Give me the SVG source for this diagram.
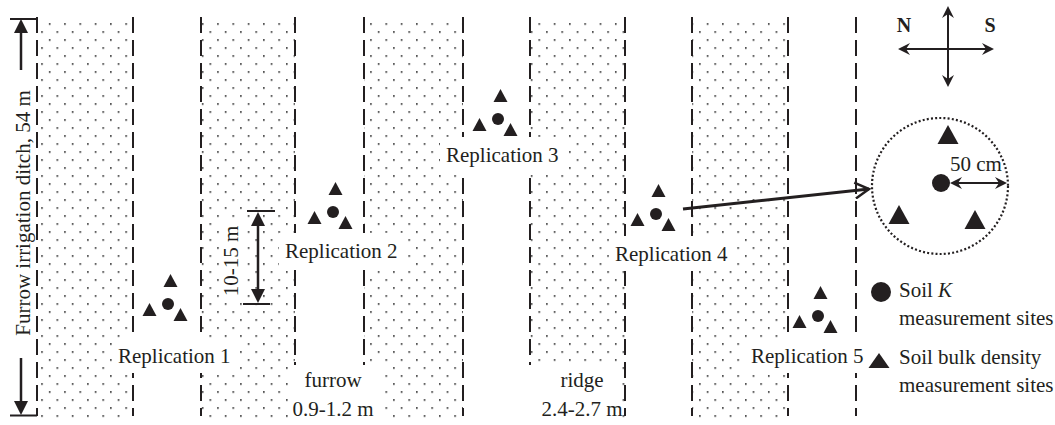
<svg xmlns="http://www.w3.org/2000/svg" width="1055" height="425" viewBox="0 0 1055 425">
  <style>
    .t { font-family: "Liberation Serif", "Times New Roman", serif; font-size: 21px; fill: #231f20; }
    .b { font-weight: bold; font-size: 20px; }
    .dash { stroke: #231f20; stroke-width: 2; stroke-dasharray: 16 7; fill: none; }
    .ln { stroke: #231f20; fill: none; }
    .ink { fill: #231f20; }
    .bg { fill: #ffffff; }
  </style>
  <defs>
    <!-- stipple used on the ridges -->
    <pattern id="stipple" patternUnits="userSpaceOnUse" x="41.2" y="31.2" width="15.3" height="16">
      <rect x="0" y="0" width="1.6" height="1.6" fill="#222"/>
      <rect x="7.65" y="8" width="1.6" height="1.6" fill="#222"/>
    </pattern>
    <!-- arrowheads -->
    <marker id="tri" viewBox="0 0 14 14" refX="7" refY="7" markerWidth="14" markerHeight="14" markerUnits="userSpaceOnUse" orient="auto-start-reverse">
      <path d="M0,0 L14,7 L0,14 Z" fill="#231f20"/>
    </marker>
    <marker id="barb" viewBox="0 0 12 12" refX="6" refY="6" markerWidth="12" markerHeight="12" markerUnits="userSpaceOnUse" orient="auto-start-reverse">
      <path d="M0,0 L12,6 L0,12 L4,6 Z" fill="#231f20"/>
    </marker>
    <marker id="open" viewBox="-1 -1 17 18" refX="14" refY="8" markerWidth="17" markerHeight="18" markerUnits="userSpaceOnUse" orient="auto">
      <path d="M0,0 L14,8 L0,16" fill="none" stroke="#231f20" stroke-width="2.5"/>
    </marker>
    <!-- measurement site symbols -->
    <path id="tri-s" d="M0,0 L7,13 L-7,13 Z"/>
    <path id="tri-l" d="M0,0 L10.5,19 L-10.5,19 Z"/>
    <g id="sites" class="ink">
      <circle r="6"/>
      <use href="#tri-s" x="2.5" y="-30"/>
      <use href="#tri-s" x="-18.5" y="-1"/>
      <use href="#tri-s" x="12.5" y="4"/>
    </g>
  </defs>

  <rect width="1055" height="425" fill="#ffffff"/>

  <!-- ridges (stippled) -->
  <g id="ridges" fill="url(#stipple)">
    <rect x="37" y="18" width="96" height="402"/>
    <rect x="201" y="18" width="94" height="402"/>
    <rect x="364" y="18" width="99" height="402"/>
    <rect x="530" y="18" width="95" height="402"/>
    <rect x="692" y="18" width="96" height="402"/>
  </g>

  <!-- furrow / ridge boundaries -->
  <g id="boundaries" class="dash">
    <line x1="37" y1="17" x2="37" y2="416"/>
    <line x1="133" y1="17" x2="133" y2="416"/>
    <line x1="201" y1="17" x2="201" y2="416"/>
    <line x1="295" y1="17" x2="295" y2="416"/>
    <line x1="364" y1="17" x2="364" y2="416"/>
    <line x1="463" y1="17" x2="463" y2="416"/>
    <line x1="530" y1="17" x2="530" y2="416"/>
    <line x1="625" y1="17" x2="625" y2="416"/>
    <line x1="692" y1="17" x2="692" y2="416"/>
    <line x1="788" y1="17" x2="788" y2="416"/>
    <line x1="856" y1="17" x2="856" y2="416"/>
  </g>

  <!-- label backgrounds -->
  <g id="label-backgrounds" class="bg">
    <rect x="112" y="338" width="123" height="35"/>
    <rect x="279" y="233" width="124" height="35"/>
    <rect x="440" y="137" width="125" height="35"/>
    <rect x="609" y="236" width="124" height="35"/>
    <rect x="745" y="338" width="123" height="35"/>
    <rect x="221" y="222" width="22" height="78"/>
    <rect x="288" y="365" width="97" height="60"/>
    <rect x="528" y="365" width="94" height="60"/>
  </g>

  <!-- connectors -->
  <g id="connectors">
    <!-- ditch length -->
    <line class="ln" x1="10" y1="19" x2="37" y2="19" stroke-width="2"/>
    <line class="ln" x1="21" y1="70" x2="21" y2="26" stroke-width="2.5" marker-end="url(#tri)"/>
    <line class="ln" x1="21" y1="358" x2="21" y2="408" stroke-width="2.5" marker-end="url(#tri)"/>
    <line class="ln" x1="10" y1="415.5" x2="37" y2="415.5" stroke-width="2"/>
    <!-- spacing between replications -->
    <line class="ln" x1="247" y1="211" x2="275" y2="211" stroke-width="2"/>
    <line class="ln" x1="258" y1="219" x2="258" y2="296" stroke-width="2.5" marker-start="url(#tri)" marker-end="url(#tri)"/>
    <line class="ln" x1="243" y1="304" x2="270" y2="304" stroke-width="2"/>
    <!-- detail call-out -->
    <line class="ln" x1="683" y1="209" x2="869" y2="189" stroke-width="3" marker-end="url(#open)"/>
    <!-- 50 cm radius -->
    <line class="ln" x1="956" y1="183" x2="1001" y2="183" stroke-width="2" marker-start="url(#barb)" marker-end="url(#barb)"/>
    <!-- compass -->
    <line class="ln" x1="948" y1="12" x2="948" y2="81" stroke-width="2" marker-start="url(#barb)" marker-end="url(#barb)"/>
    <line class="ln" x1="904" y1="49" x2="988" y2="49" stroke-width="2" marker-start="url(#barb)" marker-end="url(#barb)"/>
  </g>

  <!-- dimension labels -->
  <g id="ditch-label">
    <text class="t" font-size="20.5" text-anchor="middle" transform="translate(30,213) rotate(-90)">Furrow irrigation ditch, 54 m</text>
  </g>
  <g id="spacing-label">
    <text class="t" text-anchor="middle" transform="translate(238,261) rotate(-90)">10-15 m</text>
  </g>
  <g id="furrow-label">
    <text class="t" x="333" y="387" text-anchor="middle">furrow</text>
    <text class="t" x="333" y="416" text-anchor="middle">0.9-1.2 m</text>
  </g>
  <g id="ridge-label">
    <text class="t" x="582" y="387" text-anchor="middle">ridge</text>
    <text class="t" x="582" y="416" text-anchor="middle">2.4-2.7 m</text>
  </g>

  <!-- replications -->
  <g id="replication-1">
    <use href="#sites" x="168" y="304"/>
    <text class="t" x="118" y="363">Replication 1</text>
  </g>
  <g id="replication-2">
    <use href="#sites" x="333" y="212"/>
    <text class="t" x="285" y="258">Replication 2</text>
  </g>
  <g id="replication-3">
    <use href="#sites" x="498" y="119"/>
    <text class="t" x="446" y="162">Replication 3</text>
  </g>
  <g id="replication-4">
    <use href="#sites" x="656" y="214"/>
    <text class="t" x="615" y="261">Replication 4</text>
  </g>
  <g id="replication-5">
    <use href="#sites" x="818" y="316"/>
    <text class="t" x="751" y="363">Replication 5</text>
  </g>

  <!-- enlarged site layout -->
  <g id="site-detail">
    <circle cx="940" cy="186" r="68" fill="none" stroke="#231f20" stroke-width="2.2" stroke-dasharray="2 2.2"/>
    <circle class="ink" cx="941" cy="183" r="9"/>
    <use class="ink" href="#tri-l" x="948" y="125"/>
    <use class="ink" href="#tri-l" x="899" y="205"/>
    <use class="ink" href="#tri-l" x="975" y="210"/>
    <text class="t" x="950" y="171">50 cm</text>
  </g>

  <!-- compass -->
  <g id="compass">
    <text class="t b" x="904" y="32" text-anchor="middle">N</text>
    <text class="t b" x="990" y="32" text-anchor="middle">S</text>
  </g>

  <!-- legend -->
  <g id="legend-k">
    <circle class="ink" cx="881" cy="292" r="10"/>
    <text class="t" x="899" y="297">Soil <tspan font-style="italic">K</tspan></text>
    <text class="t" x="899" y="325">measurement sites</text>
  </g>
  <g id="legend-density">
    <path class="ink" d="M879,353 L889.5,368 L868.5,368 Z"/>
    <text class="t" x="899" y="364">Soil bulk density</text>
    <text class="t" x="899" y="392">measurement sites</text>
  </g>
</svg>
